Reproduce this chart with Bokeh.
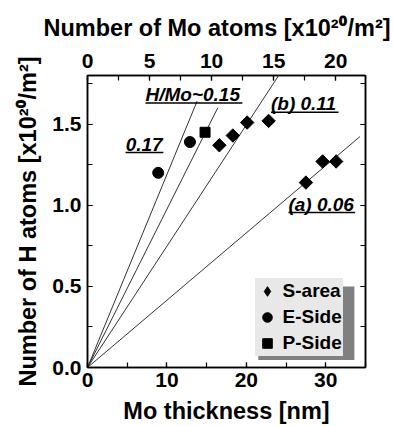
import math
from bokeh.plotting import figure
from bokeh.models import (Range1d, LinearAxis, SingleIntervalTicker, Legend, LegendItem,
                          BoxAnnotation, PrintfTickFormatter, Label)
from bokeh.embed import file_html
from bokeh.resources import INLINE

# ---------------- data ----------------
s_thick = [16.6, 18.3, 20.1, 22.8, 27.5, 29.6, 31.3]
s_h = [1.37, 1.43, 1.51, 1.52, 1.14, 1.27, 1.27]
e_thick = [8.9, 12.9]
e_h = [1.20, 1.39]
p_thick = [14.8]
p_h = [1.45]

# reference lines through origin: slope [1e20 H/m2 per nm] and end thickness
line_slope = [0.119, 0.0976, 0.0748, 0.0415]
line_xend = [13.8, 16.4, 24.1, 34.3]

# line annotations: text, left x, centre y, underline y, underline end x
ann_text = ["0.17", "H/Mo~0.15", "(b) 0.11", "(a) 0.06"]
ann_x = [4.8, 7.3, 23.1, 25.3]
ann_y = [1.372, 1.680, 1.626, 1.003]
ann_uy = [1.326, 1.631, 1.574, 0.955]
ann_xend = [9.55, 19.5, 31.6, 33.7]

X_MAX = 35
Y_MAX = 1.8
MO_PER_NM = 0.64  # 1e20 Mo atoms / m2 per nm

FONT = "Liberation Sans"
FONT_SUP = "Liberation Sans, Noto Sans"

p = figure(width=393, height=426, output_backend="svg", toolbar_location=None,
           x_range=Range1d(0, X_MAX), y_range=Range1d(0, Y_MAX),
           min_border_left=87, min_border_right=28, min_border_top=75, min_border_bottom=58,
           x_axis_label="Mo thickness [nm]", y_axis_label="Number of H atoms [x10²⁰/m²]",
           title="Number of Mo atoms [x10²⁰/m²]", title_location="above")
p.extra_x_ranges = {"mo": Range1d(0, X_MAX * MO_PER_NM)}
p.grid.visible = False
p.outline_line_color = "black"
p.outline_line_width = 1.5
p.background_fill_color = "white"
p.border_fill_color = "white"

p.title.text_font = FONT_SUP
p.title.text_font_style = "bold"
p.title.text_font_size = "23.5px"
p.title.text_color = "black"
p.title.align = "left"
p.title.offset = -44
p.title.standoff = 20

bottom_axis = p.below[0]
left_axis = p.left[0]
top_axis = LinearAxis(x_range_name="mo",
                      ticker=SingleIntervalTicker(interval=5, num_minor_ticks=2),
                      formatter=PrintfTickFormatter(format="%d"))
p.add_layout(top_axis, "above")
right_axis = LinearAxis(ticker=SingleIntervalTicker(interval=0.5, num_minor_ticks=2))
right_axis.major_label_text_font_size = "0px"
p.add_layout(right_axis, "right")

bottom_axis.ticker = SingleIntervalTicker(interval=10, num_minor_ticks=2)
bottom_axis.formatter = PrintfTickFormatter(format="%d")
left_axis.ticker = SingleIntervalTicker(interval=0.5, num_minor_ticks=2)
left_axis.formatter = PrintfTickFormatter(format="%.1f")

for ax in [bottom_axis, left_axis, top_axis, right_axis]:
    ax.axis_line_color = "black"
    ax.axis_line_width = 1.5
    ax.major_tick_in = 5
    ax.major_tick_out = 0
    ax.minor_tick_in = 5
    ax.minor_tick_out = 0
    ax.major_tick_line_color = "black"
    ax.minor_tick_line_color = "black"
    ax.major_tick_line_width = 1.2
    ax.minor_tick_line_width = 1.2
    ax.major_label_text_font = FONT
    ax.major_label_text_font_style = "bold"
    ax.major_label_text_color = "black"
    ax.major_label_standoff = 6
    ax.axis_label_text_font = FONT
    ax.axis_label_text_font_style = "bold"
    ax.axis_label_text_color = "black"
    ax.axis_label_text_font_size = "23.5px"
    ax.axis_label_standoff = 6

for ax in [bottom_axis, left_axis, top_axis]:
    ax.major_label_text_font_size = "21px"
left_axis.axis_label_text_font = FONT_SUP
top_axis.major_label_standoff = 8
bottom_axis.axis_label_standoff = 8
bottom_axis.major_label_standoff = 5
left_axis.axis_label_standoff = 8

# reference lines
for s, xe in zip(line_slope, line_xend):
    p.line([0, xe], [0, s * xe], line_color="#333333", line_width=1)

# data points
rs = p.scatter(s_thick, s_h, marker="square", angle=math.pi / 4, size=9.5,
               fill_color="black", line_color="black")
re = p.scatter(e_thick, e_h, marker="circle", size=11, fill_color="black", line_color="black")
rp = p.scatter(p_thick, p_h, marker="square", size=10, fill_color="black", line_color="black")
# legend key for the diamond series (legend draws markers unrotated)
rs_key = p.scatter(s_thick, s_h, marker="diamond", size=12, fill_color="black",
                   line_color="black", visible=False)

# annotations with underline
for t, x, y, uy, xe in zip(ann_text, ann_x, ann_y, ann_uy, ann_xend):
    p.add_layout(Label(x=x, y=y, text=t, text_font=FONT, text_font_style="bold italic",
                       text_font_size="19px", text_color="black", text_baseline="middle"))
    p.segment([x], [uy], [xe], [uy], line_color="black", line_width=1.5)

# legend shadow
p.add_layout(BoxAnnotation(left=21.5, right=33.6, bottom=0.046, top=0.50,
                           fill_color="#808080", fill_alpha=1.0, line_color=None))

legend = Legend(items=[LegendItem(label="S-area", renderers=[rs_key]),
                       LegendItem(label="E-Side", renderers=[re]),
                       LegendItem(label="P-Side", renderers=[rp])],
                location=(167.6, 11.5), orientation="vertical",
                background_fill_color="#e8e8e8", background_fill_alpha=1.0,
                border_line_color=None, label_text_font=FONT, label_text_font_style="bold",
                label_text_font_size="19px", label_text_color="black",
                glyph_width=24, glyph_height=26, label_height=21, spacing=-5,
                padding=4, margin=0, label_standoff=4, label_width=60,
                inactive_fill_alpha=0.0)
p.add_layout(legend, "center")

open("out.html", "w").write(file_html(p, INLINE))
